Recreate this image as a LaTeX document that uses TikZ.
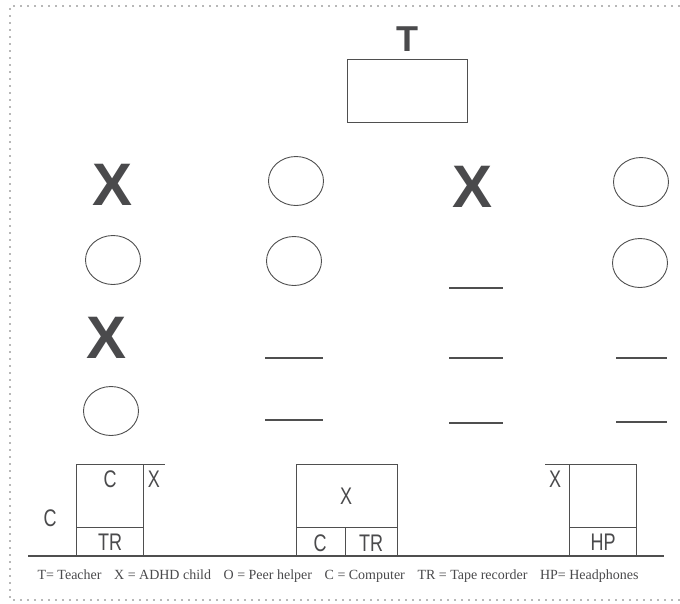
\documentclass[tikz,border=0pt]{standalone}
\usepackage{fontspec}
\setmainfont{Liberation Serif}
\newfontfamily\boldsans{Liberation Sans}
\newfontfamily\desksans[FakeStretch=0.75]{Liberation Sans}
\usetikzlibrary{shapes.geometric}
\definecolor{ink}{HTML}{4A4A4C}
\definecolor{linegray}{HTML}{4F4F4F}
\definecolor{dotgray}{HTML}{B8B8B8}
\begin{document}
\begin{tikzpicture}[x=1pt,y=-1pt,
  bigx/.style={inner sep=0pt, text=ink, font=\boldsans\bfseries\fontsize{60}{60}\selectfont},
  bigt/.style={inner sep=0pt, text=ink, font=\boldsans\bfseries\fontsize{36}{36}\selectfont},
  seat/.style={ellipse, draw=linegray, line width=0.9pt, inner sep=0pt, minimum width=55pt, minimum height=49pt},
  blank/.style={draw=linegray, line width=1.3pt},
  desk/.style={draw=linegray, line width=0.8pt},
  deskt/.style={inner sep=0pt, text=ink, font=\desksans\fontsize{24}{24}\selectfont},
  legend/.style={inner sep=0pt, text=ink, font=\fontsize{14}{16}\selectfont},
  border/.style={draw=dotgray, line width=1.6pt, dash pattern=on 1.6pt off 5.4pt}
]
\useasboundingbox (0,0) rectangle (680,603);
% dotted frame
\draw[border] (680,6) -- (10,6) -- (10,600) -- (680,600);

% teacher
\node[bigt] (T) at (407,39) {T};
\draw[desk, line width=1pt] (347,59) rectangle (467,122);

% column 1
\node[bigx] (x11) at (113,185) {X};
\node[seat] (c12) at (113,260) {};
\node[bigx] (x13) at (107,338) {X};
\node[seat] (c14) at (111,411) {};

% column 2
\node[seat] (c21) at (296,181) {};
\node[seat] (c22) at (294,261) {};
\coordinate (l23a) at (265,358); \coordinate (l23b) at (323,358);
\draw[blank] (l23a) -- (l23b);
\coordinate (l24a) at (265,420); \coordinate (l24b) at (323,420);
\draw[blank] (l24a) -- (l24b);

% column 3
\node[bigx] (x31) at (473,187) {X};
\coordinate (l32a) at (449,288); \coordinate (l32b) at (503,288);
\draw[blank] (l32a) -- (l32b);
\coordinate (l33a) at (449,358); \coordinate (l33b) at (503,358);
\draw[blank] (l33a) -- (l33b);
\coordinate (l34a) at (449,423); \coordinate (l34b) at (503,423);
\draw[blank] (l34a) -- (l34b);

% column 4
\node[seat] (c41) at (641,182) {};
\node[seat] (c42) at (640,263) {};
\coordinate (l43a) at (616,358); \coordinate (l43b) at (667,358);
\draw[blank] (l43a) -- (l43b);
\coordinate (l44a) at (616,422); \coordinate (l44b) at (667,422);
\draw[blank] (l44a) -- (l44b);

% floor line
\coordinate (fl) at (28,556); \coordinate (fr) at (664,556);
\draw[desk, line width=1.1pt] (fl) -- (fr);

% left desk
\draw[desk] (76,556) -- (76,464) -- (165,464);
\draw[desk] (143,464) -- (143,556);
\draw[desk] (76,527) -- (143,527);
\node[deskt] (dC1) at (110,479) {C};
\node[deskt] (dX1) at (154,479) {X};
\node[deskt] (dTR1) at (110,542) {TR};
\node[deskt] (dC0) at (50,518) {C};

% middle desk
\draw[desk] (296,556) rectangle (397,464);
\draw[desk] (296,527) -- (397,527);
\draw[desk] (345,527) -- (345,556);
\node[deskt] (dX2) at (346,496) {X};
\node[deskt] (dC2) at (320,543) {C};
\node[deskt] (dTR2) at (371,543) {TR};

% right desk
\draw[desk] (545,464) -- (636,464) -- (636,556);
\draw[desk] (569,464) -- (569,556);
\draw[desk] (569,527) -- (636,527);
\node[deskt] (dX3) at (555,479) {X};
\node[deskt] (dHP) at (603,542) {HP};

% legend
\node[legend] (leg) at (338,576) {T= Teacher\hspace{0.9em}X = ADHD child\hspace{0.9em}O = Peer helper\hspace{0.9em}C = Computer\hspace{0.9em}TR = Tape recorder\hspace{0.9em}HP= Headphones};
\end{tikzpicture}
\end{document}
